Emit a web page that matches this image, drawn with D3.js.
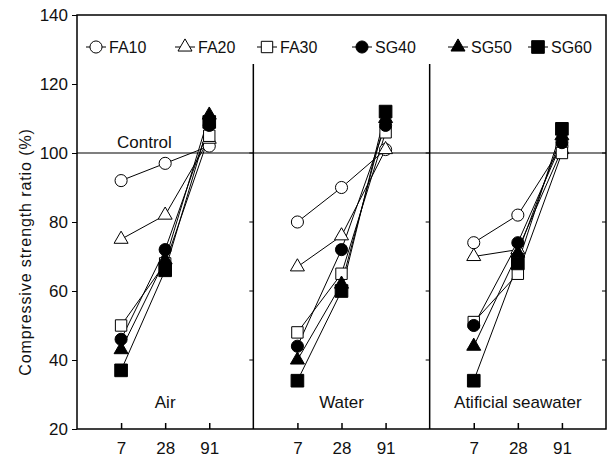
<!DOCTYPE html>
<html>
<head>
<meta charset="utf-8">
<script src="https://cdn.jsdelivr.net/npm/d3@7"></script>
<style>
  body { margin: 0; background: #fff; }
  text { font-family: "Liberation Sans", Arial, sans-serif; fill: #111; }
</style>
</head>
<body>
<div id="chart"></div>
<script>
const ages = [7, 28, 91]
const conditions = ['Air', 'Water', 'Atificial seawater']
const seriesNames = ['FA10', 'FA20', 'FA30', 'SG40', 'SG50', 'SG60']
const yTicks = [20, 40, 60, 80, 100, 120, 140]
const controlValue = 100

// one row per series (FA10 .. SG60), values at 7, 28, 91 days
const airValues = [
  [92, 97, 102],
  [75, 82, 104],
  [50, 68, 105],
  [46, 72, 108],
  [43, 69, 111],
  [37, 66, 109],
]
const waterValues = [
  [80, 90, 101],
  [67, 76, 101],
  [48, 65, 106],
  [44, 72, 108],
  [40, 62, 110],
  [34, 60, 112],
]
const seawaterValues = [
  [74, 82, 102],
  [70, 72, 101],
  [51, 65, 100],
  [50, 74, 103],
  [44, 71, 105],
  [34, 68, 107],
]
const valuesByCondition = [airValues, waterValues, seawaterValues]

const width = 609,
  height = 462
const margin = { top: 15, right: 3, bottom: 33, left: 77 }

const svg = d3
  .select('#chart')
  .append('svg')
  .attr('width', width)
  .attr('height', height)

const y = d3
  .scaleLinear()
  .domain([20, 140])
  .range([height - margin.bottom, margin.top])

const panel = d3
  .scaleBand()
  .domain(conditions)
  .range([margin.left, width - margin.right])

const x = d3
  .scalePoint()
  .domain(ages)
  .range([0, panel.bandwidth()])
  .padding(1)

// marker styles per series
const symbolType = [d3.symbolCircle, d3.symbolTriangle, d3.symbolSquare,
  d3.symbolCircle, d3.symbolTriangle, d3.symbolSquare]
const symbolSize = [115, 85, 130, 115, 85, 160]
const filled = [false, false, false, true, true, true]
const symbol = i => d3.symbol().type(symbolType[i]).size(symbolSize[i])()

// frame
svg.append('rect')
  .attr('x', margin.left)
  .attr('y', margin.top)
  .attr('width', width - margin.right - margin.left)
  .attr('height', y(20) - margin.top)
  .attr('fill', 'none')
  .attr('stroke', '#000')
  .attr('stroke-width', 1.5)

// panel dividers (stop below the legend)
svg.selectAll('line.divider')
  .data(conditions.slice(1))
  .enter()
  .append('line')
  .attr('x1', d => panel(d))
  .attr('x2', d => panel(d))
  .attr('y1', 64)
  .attr('y2', y(20))
  .attr('stroke', '#000')
  .attr('stroke-width', 1.5)

// y axis
const yAxis = svg.append('g')
  .attr('transform', `translate(${margin.left},0)`)
  .call(d3.axisLeft(y).tickValues(yTicks).tickSize(5).tickPadding(4))
yAxis.select('.domain').remove()
yAxis.selectAll('text').attr('font-size', 17).attr('fill', '#111')

// small inward ticks on the divider / right lines
conditions.forEach(c => {
  const xr = panel(c) + panel.bandwidth()
  svg.append('g')
    .selectAll('line')
    .data(yTicks.slice(1, -2))
    .enter()
    .append('line')
    .attr('x1', xr)
    .attr('x2', xr - 4)
    .attr('y1', d => y(d))
    .attr('y2', d => y(d))
    .attr('stroke', '#000')
})

svg.append('text')
  .attr('transform', `translate(31,${(margin.top + y(20)) / 2 + 30}) rotate(-90)`)
  .attr('text-anchor', 'middle')
  .attr('font-size', 16)
  .attr('letter-spacing', 0.9)
  .text('Compressive strength ratio (%)')

// control line
svg.append('line')
  .attr('x1', margin.left)
  .attr('x2', width - margin.right)
  .attr('y1', y(controlValue))
  .attr('y2', y(controlValue))
  .attr('stroke', '#000')
  .attr('stroke-width', 1.2)

svg.append('text')
  .attr('x', panel('Air') + 40)
  .attr('y', y(controlValue) - 5)
  .attr('font-size', 17)
  .text('Control')

const line = d3.line()
  .x((d, i) => x(ages[i]))
  .y(d => y(d))

conditions.forEach((c, ci) => {
  const g = svg.append('g').attr('transform', `translate(${panel(c)},0)`)

  // x axis ticks pointing up
  const xAxis = g.append('g')
    .attr('transform', `translate(0,${y(20)})`)
    .call(d3.axisBottom(x).tickSize(-6).tickPadding(13))
  xAxis.select('.domain').remove()
  xAxis.selectAll('text').attr('font-size', 17).attr('fill', '#111')
  xAxis.selectAll('line').attr('stroke-width', 1.5)

  g.append('text')
    .attr('x', x(28))
    .attr('y', y(26))
    .attr('text-anchor', 'middle')
    .attr('font-size', 17)
    .text(c)

  const values = valuesByCondition[ci]

  g.selectAll('path.series')
    .data(values)
    .enter()
    .append('path')
    .attr('d', line)
    .attr('fill', 'none')
    .attr('stroke', '#000')
    .attr('stroke-width', 1)

  values.forEach((row, si) => {
    g.selectAll(null)
      .data(row)
      .enter()
      .append('path')
      .attr('transform', (d, i) => `translate(${x(ages[i])},${y(d)})`)
      .attr('d', symbol(si))
      .attr('fill', filled[si] ? '#000' : '#fff')
      .attr('stroke', '#000')
      .attr('stroke-width', 1)
  })
})

// legend
const legendX = [96, 185, 267, 362, 458, 538]
const legend = svg.append('g')
  .selectAll('g')
  .data(seriesNames)
  .enter()
  .append('g')
  .attr('transform', (d, i) => `translate(${legendX[i]},47)`)

legend.append('line')
  .attr('x1', -10)
  .attr('x2', 10)
  .attr('stroke', '#000')
legend.append('path')
  .attr('d', (d, i) => symbol(i))
  .attr('fill', (d, i) => filled[i] ? '#000' : '#fff')
  .attr('stroke', '#000')
legend.append('text')
  .attr('x', 13)
  .attr('dy', '0.35em')
  .attr('font-size', 16)
  .text(d => d)
</script>
</body>
</html>
